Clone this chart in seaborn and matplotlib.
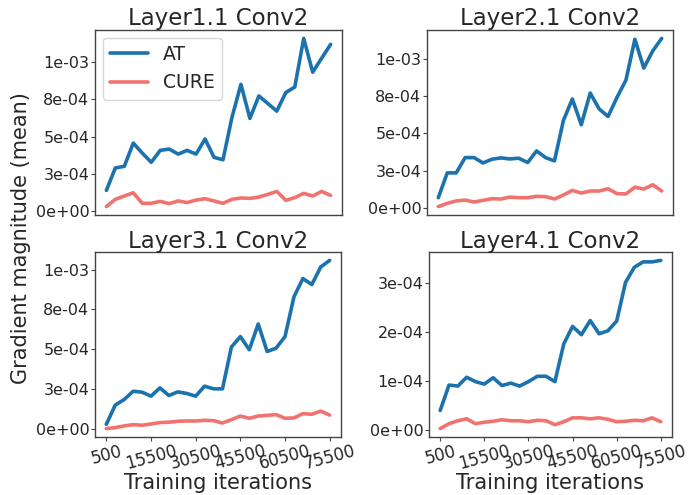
import numpy as np
import pandas as pd
import matplotlib
matplotlib.use("Agg")
import matplotlib.pyplot as plt
import seaborn as sns
from matplotlib.ticker import FixedLocator, FixedFormatter

iterations = list(range(500, 75501, 3000))

titles = ["Layer1.1 Conv2", "Layer2.1 Conv2", "Layer3.1 Conv2", "Layer4.1 Conv2"]

at_l1 = [1.38e-4, 2.89e-4, 3.0e-4, 4.56e-4, 3.89e-4, 3.27e-4, 4.07e-4, 4.16e-4, 3.82e-4, 4.07e-4,
         3.82e-4, 4.84e-4, 3.6e-4, 3.44e-4, 6.29e-4, 8.51e-4, 6.22e-4, 7.73e-4, 7.22e-4, 6.71e-4,
         7.96e-4, 8.33e-4, 11.6e-4, 9.33e-4, 10.27e-4, 11.2e-4]
cure_l1 = [0.29e-4, 0.78e-4, 1.0e-4, 1.22e-4, 0.51e-4, 0.51e-4, 0.64e-4, 0.49e-4, 0.67e-4, 0.56e-4,
           0.73e-4, 0.82e-4, 0.67e-4, 0.51e-4, 0.78e-4, 0.87e-4, 0.84e-4, 0.93e-4, 1.11e-4, 1.31e-4,
           0.71e-4, 0.89e-4, 1.18e-4, 1.0e-4, 1.31e-4, 1.04e-4]

at_l2 = [0.67e-4, 2.34e-4, 2.34e-4, 3.37e-4, 3.37e-4, 3.01e-4, 3.26e-4, 3.35e-4, 3.28e-4, 3.33e-4,
         3.04e-4, 3.82e-4, 3.37e-4, 3.15e-4, 5.87e-4, 7.32e-4, 5.58e-4, 7.72e-4, 6.65e-4, 6.14e-4,
         7.43e-4, 8.59e-4, 11.34e-4, 9.4e-4, 10.56e-4, 11.4e-4]
cure_l2 = [0.07e-4, 0.29e-4, 0.45e-4, 0.51e-4, 0.38e-4, 0.49e-4, 0.6e-4, 0.58e-4, 0.71e-4, 0.67e-4,
           0.67e-4, 0.76e-4, 0.74e-4, 0.58e-4, 0.85e-4, 1.16e-4, 0.98e-4, 1.12e-4, 1.12e-4, 1.27e-4,
           0.94e-4, 0.92e-4, 1.38e-4, 1.25e-4, 1.54e-4, 1.12e-4]

at_l3 = [0.27e-4, 1.48e-4, 1.83e-4, 2.35e-4, 2.29e-4, 2.04e-4, 2.56e-4, 2.08e-4, 2.31e-4, 2.21e-4,
         2.04e-4, 2.67e-4, 2.5e-4, 2.5e-4, 5.13e-4, 5.79e-4, 4.96e-4, 6.58e-4, 4.85e-4, 5.06e-4,
         5.79e-4, 8.29e-4, 9.44e-4, 9.06e-4, 10.17e-4, 10.58e-4]
cure_l3 = [0.0, 0.06e-4, 0.17e-4, 0.25e-4, 0.21e-4, 0.29e-4, 0.38e-4, 0.40e-4, 0.46e-4, 0.48e-4,
           0.48e-4, 0.52e-4, 0.5e-4, 0.35e-4, 0.56e-4, 0.79e-4, 0.65e-4, 0.79e-4, 0.83e-4, 0.88e-4,
           0.65e-4, 0.67e-4, 0.94e-4, 0.9e-4, 1.1e-4, 0.85e-4]

at_l4 = [0.39e-4, 0.91e-4, 0.89e-4, 1.07e-4, 0.98e-4, 0.93e-4, 1.06e-4, 0.9e-4, 0.95e-4, 0.89e-4,
         0.98e-4, 1.09e-4, 1.09e-4, 0.98e-4, 1.75e-4, 2.11e-4, 1.94e-4, 2.23e-4, 1.96e-4, 2.02e-4,
         2.22e-4, 3.01e-4, 3.32e-4, 3.43e-4, 3.43e-4, 3.46e-4]
cure_l4 = [0.02e-4, 0.12e-4, 0.18e-4, 0.22e-4, 0.12e-4, 0.15e-4, 0.17e-4, 0.2e-4, 0.18e-4, 0.18e-4,
           0.16e-4, 0.19e-4, 0.18e-4, 0.1e-4, 0.16e-4, 0.24e-4, 0.24e-4, 0.22e-4, 0.24e-4, 0.21e-4,
           0.16e-4, 0.17e-4, 0.19e-4, 0.18e-4, 0.24e-4, 0.16e-4]

xtick_values = [500, 15500, 30500, 45500, 60500, 75500]
ytick_values_small = [0, 2.5e-4, 5e-4, 7.5e-4, 1e-3]
ytick_labels_small = ["0e+00", "3e-04", "5e-04", "8e-04", "1e-03"]
ytick_values_l4 = [0, 1e-4, 2e-4, 3e-4]
ytick_labels_l4 = ["0e+00", "1e-04", "2e-04", "3e-04"]

sns.set_style("white")
plt.rcParams["font.family"] = ["DejaVu Sans"]

colors = {"AT": "#1b72ad", "CURE": "#f0736f"}

fig = plt.figure(figsize=(6.88, 4.95), dpi=100)
positions = [
    [95 / 688, 1 - 215 / 495, 247 / 688, 185 / 495],
    [427 / 688, 1 - 215 / 495, 246 / 688, 185 / 495],
    [95 / 688, 1 - 437 / 495, 246 / 688, 185 / 495],
    [429 / 688, 1 - 437 / 495, 243 / 688, 185 / 495],
]
series = [(at_l1, cure_l1), (at_l2, cure_l2), (at_l3, cure_l3), (at_l4, cure_l4)]

for i, (pos, (at, cure), title) in enumerate(zip(positions, series, titles)):
    ax = fig.add_axes(pos)
    df = pd.DataFrame({
        "iter": iterations * 2,
        "val": list(at) + list(cure),
        "method": ["AT"] * len(at) + ["CURE"] * len(cure),
    })
    sns.lineplot(data=df, x="iter", y="val", hue="method", palette=colors,
                 linewidth=2.6, ax=ax, legend=(i == 0))
    ax.set_title(title, fontsize=16.5, pad=3)
    ax.set_xlabel("")
    ax.set_ylabel("")
    ax.set_xlim(-3300, 79300)
    if i == 3:
        ax.yaxis.set_major_locator(FixedLocator(ytick_values_l4))
        ax.yaxis.set_major_formatter(FixedFormatter(ytick_labels_l4))
    else:
        ax.yaxis.set_major_locator(FixedLocator(ytick_values_small))
        ax.yaxis.set_major_formatter(FixedFormatter(ytick_labels_small))
    if i >= 2:
        ax.set_xticks(xtick_values)
        ax.set_xticklabels([str(v) for v in xtick_values], rotation=15, fontsize=12)
        ax.set_xlabel("Training iterations", fontsize=15, labelpad=0)
    else:
        ax.set_xticks(xtick_values)
        ax.set_xticklabels([])
        ax.tick_params(axis="x", length=0)
    ax.tick_params(axis="y", labelsize=11.5, length=3, width=0.8, pad=1, left=True, color="#444444")
    if i >= 2:
        ax.tick_params(axis="x", length=3, width=0.8, pad=0.5, bottom=True, color="#444444")
    for sp in ax.spines.values():
        sp.set_color("#444444")
        sp.set_linewidth(1.0)
    if i == 0:
        leg = ax.legend(loc="upper left", fontsize=13.5, frameon=True, handlelength=2.0,
                        borderaxespad=0.4)
        for line in leg.get_lines():
            line.set_linewidth(2.6)

fig.text(0.03, 0.52, "Gradient magnitude (mean)", rotation=90, va="center", ha="center",
         fontsize=15)

fig.savefig("out.png", dpi=100)
